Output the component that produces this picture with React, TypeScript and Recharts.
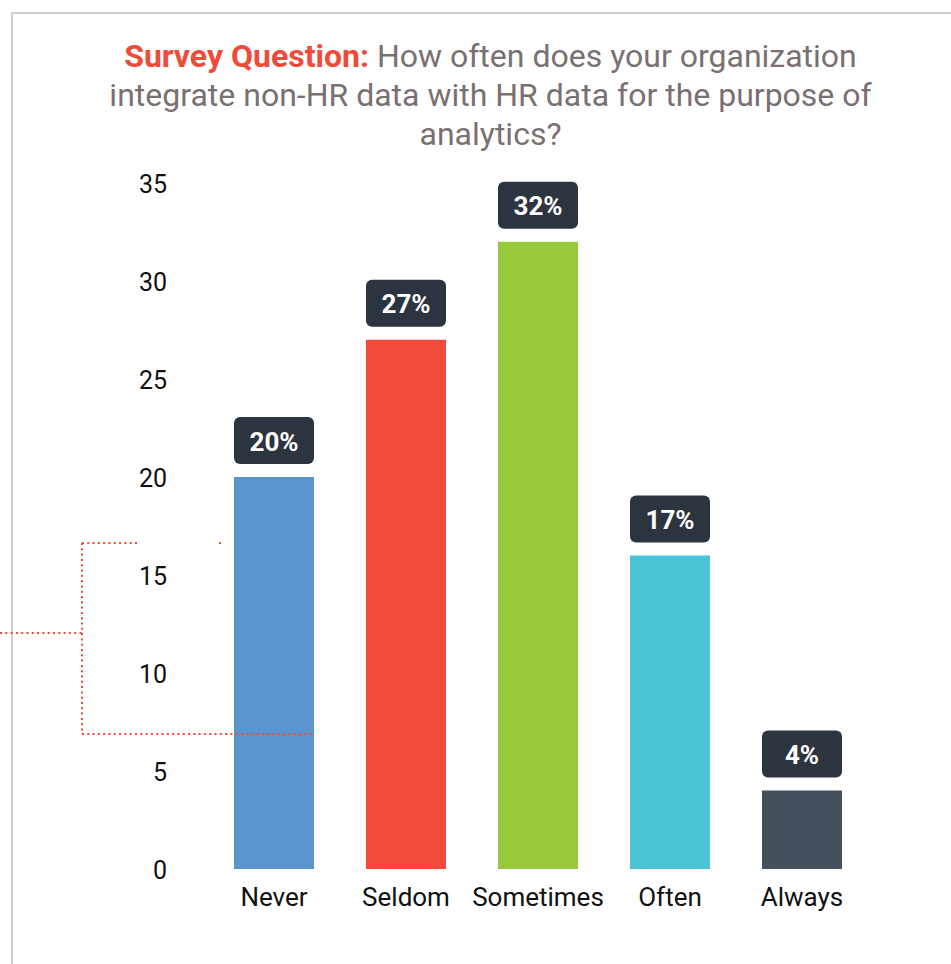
import React from 'react';
import { BarChart, Bar, XAxis, YAxis, Cell, LabelList } from 'recharts';

const categories = ['Never', 'Seldom', 'Sometimes', 'Often', 'Always'];
const values = [20, 27, 32, 16, 4];
const valueLabels = ['20%', '27%', '32%', '17%', '4%'];
const barColors = ['#5b95cd', '#f24a3c', '#97c93d', '#4bc4d8', '#46505c'];
const yTicks = [0, 5, 10, 15, 20, 25, 30, 35];

const titleLines = [
  'How often does your organization',
  'integrate non-HR data with HR data for the purpose of',
  'analytics?',
];

const chartData = categories.map((name, i) => ({
  name,
  value: values[i],
  label: valueLabels[i],
}));

const FONT = 'Roboto, "Noto Sans", sans-serif';

// dark rounded badge sitting above each bar
function ValueBadge(props: any) {
  const { x, y, width, index } = props;
  const h = 47;
  const top = y - 13 - h;
  return (
    <g>
      <rect x={x} y={top} width={width} height={h} rx={6} ry={6} fill="#2c3440" />
      <text
        x={x + width / 2}
        y={top + h / 2 + 1}
        textAnchor="middle"
        dominantBaseline="central"
        fill="#ffffff"
        fontFamily={FONT}
        fontWeight={700}
        fontSize={26}
      >
        {valueLabels[index]}
      </text>
    </g>
  );
}

export default function App() {
  return (
    <div style={{ position: 'absolute', left: 0, top: 0, width: 951, height: 964, overflow: 'hidden', background: '#fff', fontFamily: FONT }}>
      {/* frame */}
      <div
        style={{
          position: 'absolute',
          left: 11,
          top: 12,
          width: 960,
          height: 980,
          borderLeft: '2px solid #d5cdcc',
          borderTop: '2px solid #d5cdcc',
        }}
      />
      {/* title */}
      <div
        style={{
          position: 'absolute',
          left: 30,
          top: 37,
          width: 921,
          textAlign: 'center',
          fontSize: 32,
          lineHeight: '39px',
          color: '#7a7070',
        }}
      >
        <div>
          <span style={{ color: '#f04a3a', fontWeight: 700 }}>Survey Question:</span> {titleLines[0]}
        </div>
        <div>{titleLines[1]}</div>
        <div>{titleLines[2]}</div>
      </div>
      <div style={{ position: 'absolute', left: 0, top: 0 }}>
        <BarChart
          width={951}
          height={964}
          data={chartData}
          margin={{ top: 183, right: 83, bottom: 35, left: 0 }}
          barCategoryGap={26}
        >
          <YAxis
            type="number"
            domain={[0, 35]}
            ticks={yTicks}
            width={208}
            axisLine={false}
            tickLine={false}
            tickSize={0}
            tickMargin={41}
            tick={{ fill: '#111', fontSize: 25, fontFamily: FONT, dy: 1 }}
          />
          <XAxis
            dataKey="name"
            height={60}
            axisLine={false}
            tickLine={false}
            tickSize={0}
            tickMargin={19}
            interval={0}
            tick={{ fill: '#111', fontSize: 26, fontFamily: FONT }}
          />
          <Bar dataKey="value" isAnimationActive={false}>
            {chartData.map((d, i) => (
              <Cell key={d.name} fill={barColors[i]} />
            ))}
            <LabelList dataKey="label" content={ValueBadge} />
          </Bar>
        </BarChart>
      </div>
      {/* decorative dotted bracket */}
      <svg width={951} height={964} style={{ position: 'absolute', left: 0, top: 0, pointerEvents: 'none' }}>
        <g stroke="#f04a3a" strokeWidth={2} strokeDasharray="2 3.3" fill="none">
          <line x1={82} y1={543} x2={138} y2={543} />
          <line x1={219} y1={543} x2={221} y2={543} />
          <line x1={82} y1={543} x2={82} y2={734} />
          <line x1={82} y1={734} x2={314} y2={734} />
          <line x1={0} y1={633} x2={82} y2={633} />
        </g>
      </svg>
    </div>
  );
}
